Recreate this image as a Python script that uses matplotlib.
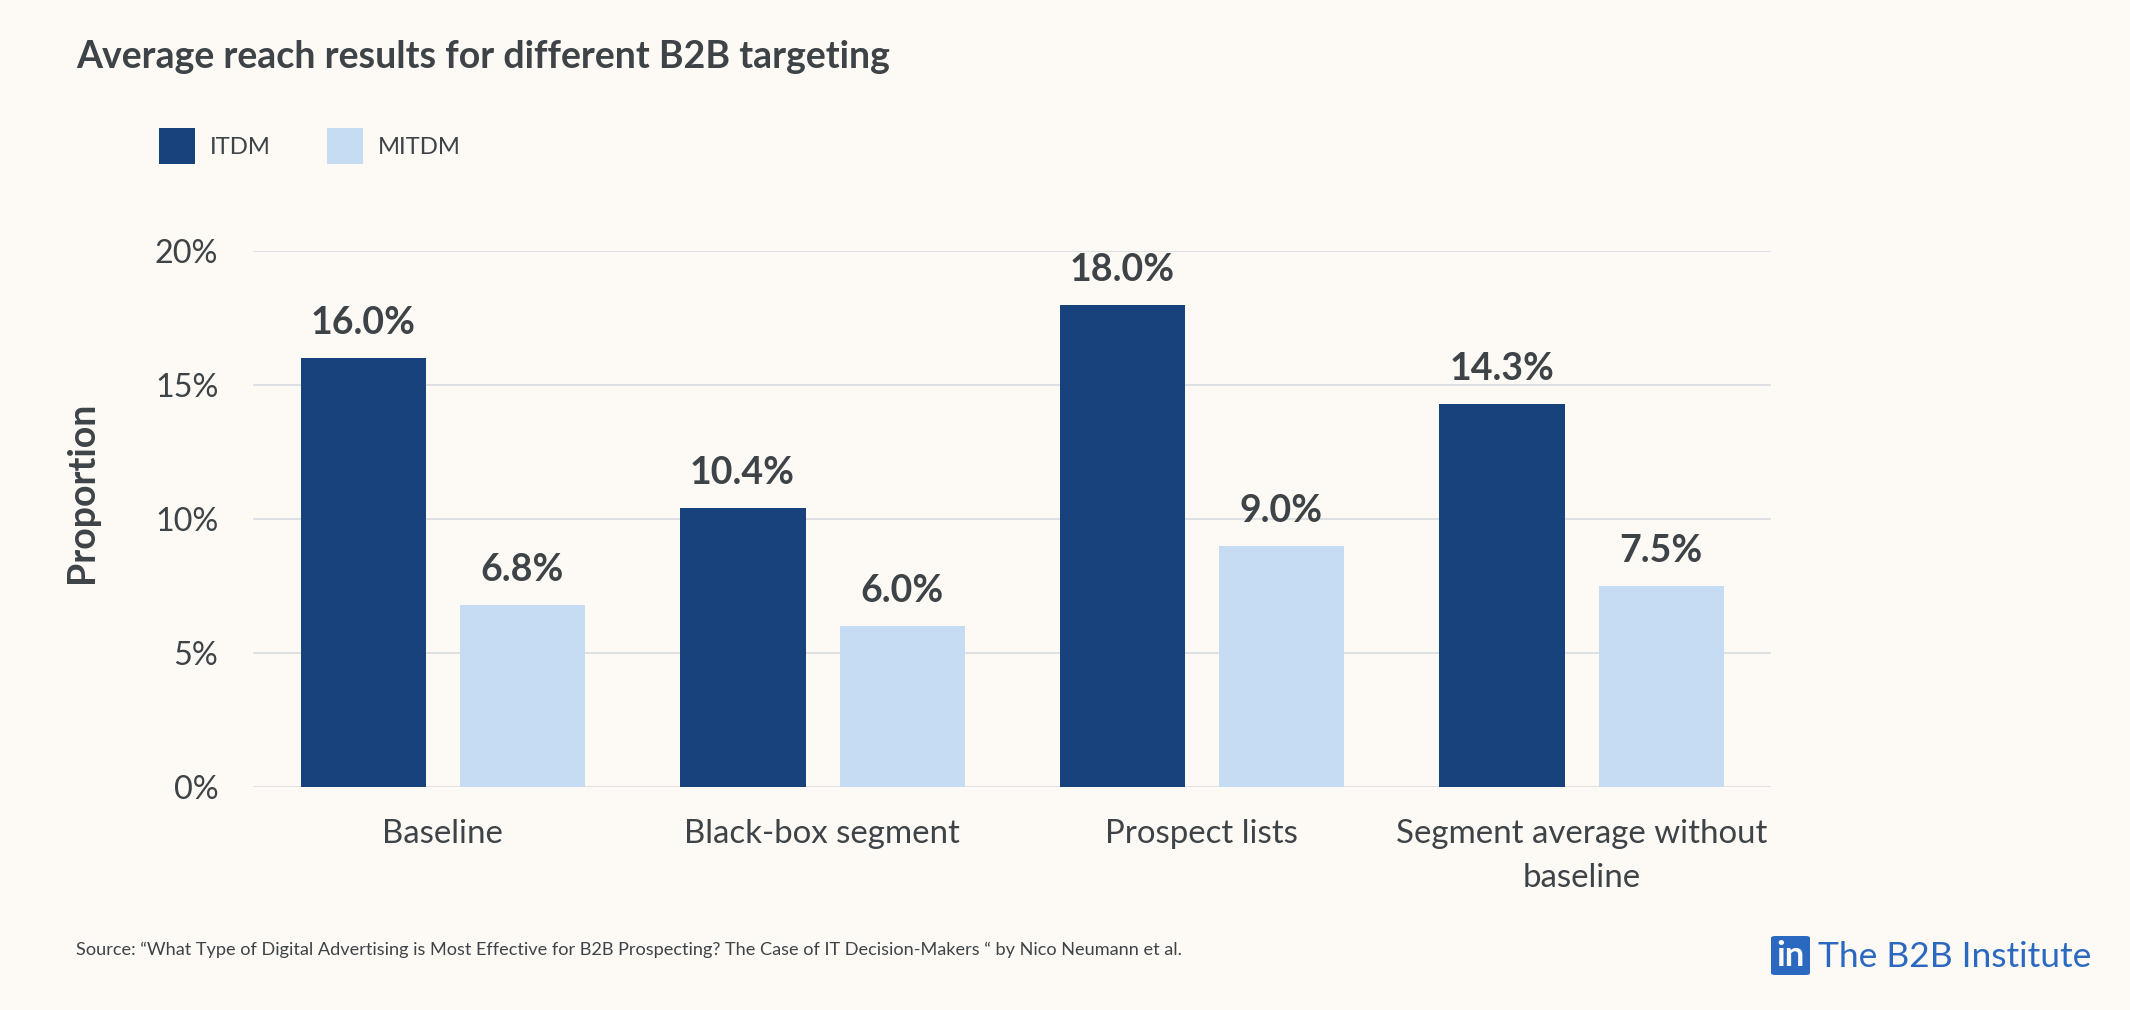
import matplotlib
matplotlib.use("Agg")
import matplotlib.pyplot as plt
from matplotlib.patches import Rectangle, FancyBboxPatch
import numpy as np

categories = ["Baseline", "Black-box segment", "Prospect lists", "Segment average without\nbaseline"]
itdm = [16.0, 10.4, 18.0, 14.3]
mitdm = [6.8, 6.0, 9.0, 7.5]
yticks = [0, 5, 10, 15, 20]
series_names = ["ITDM", "MITDM"]

W, H = 2130, 1010
BG = "#FDFAF5"
DARK = "#17427C"
LIGHT = "#C6DCF2"
TXT = "#3D4346"
plt.rcParams['font.family'] = ['Lato', 'DejaVu Sans']

fig = plt.figure(figsize=(W/100, H/100), dpi=100, facecolor=BG)
L, R, T, B = 253, 1771, 251, 787
ax = fig.add_axes([L/W, 1-B/H, (R-L)/W, (B-T)/H], facecolor=BG)
x = np.arange(4)
bw = 0.33
off = 0.21
ax.bar(x-off+0.001, itdm, bw, color=DARK, zorder=3)
ax.bar(x+off+0.001, mitdm, bw, color=LIGHT, zorder=3)
ax.set_xlim(-0.5, 3.5)
ax.set_ylim(0, 20)
ax.set_yticks(yticks)
ax.set_yticklabels([f"{v}%" for v in yticks], fontsize=23.3, color=TXT)
ax.set_xticks(x)
ax.set_xticklabels(categories, fontsize=23.8, color=TXT, linespacing=1.58)
ax.tick_params(length=0, axis='y', pad=25)
ax.tick_params(length=0, axis='x', pad=23)
ax.grid(axis='y', color="#DEE1E3", lw=1.4, zorder=0)
ax.set_axisbelow(True)
for s in ax.spines.values():
    s.set_visible(False)
for xs, vals in ((x-off, itdm), (x+off, mitdm)):
    for a, v in zip(xs, vals):
        ax.annotate(f"{v:.1f}%", (a, v), xytext=(0, 18), textcoords='offset pixels',
                    ha='center', va='bottom', fontsize=27, fontweight='bold', color=TXT, zorder=4)
ax.set_ylabel("Proportion", fontsize=27, fontweight='bold', color=TXT, labelpad=0)
ax.yaxis.set_label_coords((99-L)/(R-L), (B-492)/(B-T))

fig.text(76/W, 1-57/H, "Average reach results for different B2B targeting", fontsize=27,
         fontweight='bold', color=TXT, va='center')
for lx, c, name in ((159, DARK, series_names[0]), (327, LIGHT, series_names[1])):
    fig.add_artist(Rectangle((lx/W, 1-164/H), 36/W, 36/H, transform=fig.transFigure, color=c, lw=0))
    fig.text((lx+51)/W, 1-147/H, name, fontsize=17.2, color=TXT, va='center')
fig.text(76/W, 1-950/H,
         "Source: “What Type of Digital Advertising is Most Effective for B2B Prospecting? The Case of IT Decision-Makers “ by Nico Neumann et al.",
         fontsize=13.1, color=TXT, va='center')
fig.add_artist(FancyBboxPatch((1771/W, 1-975/H), 39/W, 39/H, transform=fig.transFigure,
               boxstyle="round,pad=0,rounding_size=0.002", color="#2B69C0", lw=0))
fig.text(1791/W, 1-956/H, "in", fontsize=25, fontweight='bold', color=BG, ha='center', va='center')
fig.text(1818/W, 1-957/H, "The B2B Institute", fontsize=25.5, color="#2B69C0", va='center')
fig.savefig("out.png", dpi=100, facecolor=BG)
